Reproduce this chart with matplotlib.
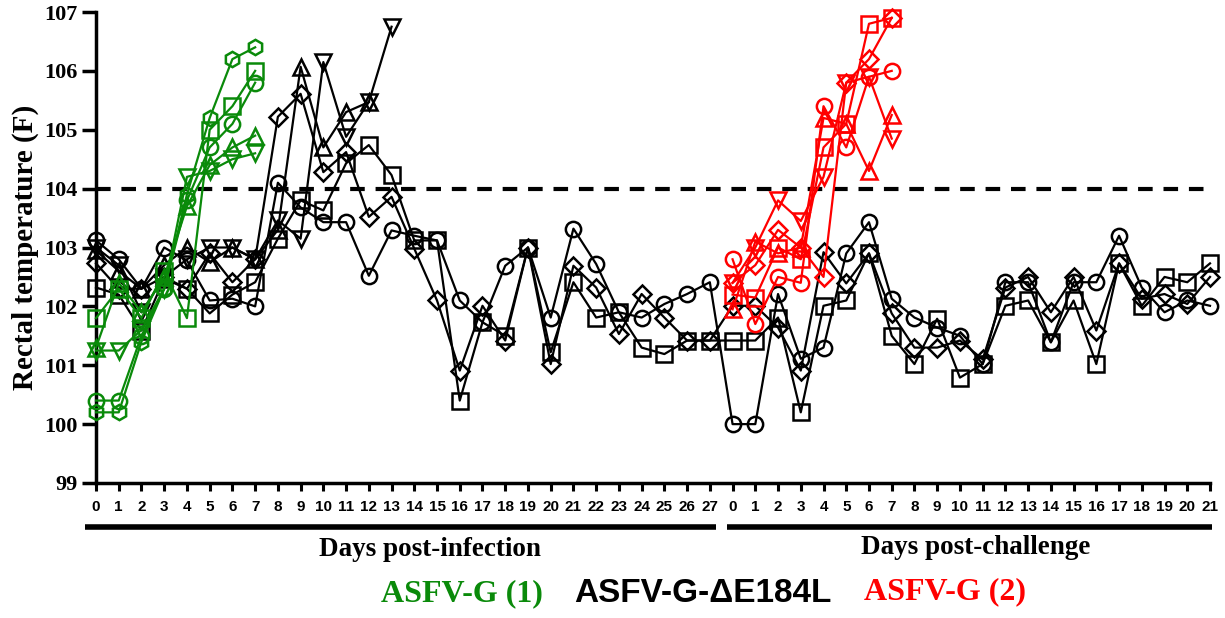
import matplotlib
matplotlib.use("Agg")
import matplotlib.pyplot as plt
import matplotlib.transforms as mtransforms
import numpy as np

# ---------------- data ----------------
pi_days = list(range(28))          # days post-infection 0..27
pc_days = list(range(22))          # days post-challenge 0..21
tick_labels = [str(d) for d in pi_days] + [str(d) for d in pc_days]

# ASFV-G (1) group (green), days 0..7 post-infection
g1_hexagon = [100.2, 100.2, 101.4, 102.3, 103.9, 105.2, 106.2, 106.4]
g1_circle = [100.4, 100.4, 101.5, 102.3, 103.8, 104.7, 105.1, 105.8]
g1_square = [101.8, 102.3, 101.8, 102.6, 101.8, 105.0, 105.4, 106.0]
g1_tri_up = [101.3, 102.4, 101.9, 102.5, 103.7, 104.4, 104.7, 104.9]
g1_tri_down = [101.25, 101.25, 101.6, 102.3, 104.2, 104.3, 104.5, 104.6]

# ASFV-G-dE184L group (black)
k_tri_up = [102.95, 102.6, 102.3, 102.7, 103.0, 102.75, 103.0, 102.8, 103.3,
            106.07, 104.7, 105.3, 105.47]
k_tri_down = [103.0, 102.7, 101.9, 102.5, 102.8, 103.0, 103.0, 102.8, 103.46,
              103.15, 106.15, 104.88, 105.47, 106.75]
k_circle = [103.12, 102.8, 102.3, 103.0, 102.78, 102.1, 102.13, 102.0, 104.1,
            103.68, 103.43, 103.43, 102.52, 103.29, 103.2, 103.12, 102.1, 101.73,
            102.69, 103.0, 101.81, 103.32, 102.72, 101.9, 101.81, 102.04, 102.21,
            102.41,
            100.0, 100.0, 102.21, 101.11, 101.3, 102.9, 103.43, 102.13, 101.81,
            101.64, 101.5, 101.02, 102.41, 102.41, 101.39, 102.41, 102.41, 103.2,
            102.32, 101.9, 102.1, 102.01]
k_square = [102.32, 102.2, 101.59, 102.47, 102.3, 101.88, 102.2, 102.41, 103.15,
            103.8, 103.63, 104.43, 104.74, 104.23, 103.12, 103.12, 100.4, 101.73,
            101.5, 103.0, 101.22, 102.41, 101.81, 101.9, 101.3, 101.19, 101.42,
            101.42,
            101.42, 101.42, 101.81, 100.2, 102.01, 102.1, 102.9, 101.5, 101.02,
            101.79, 100.79, 101.02, 102.01, 102.1, 101.39, 102.1, 101.02, 102.73,
            102.01, 102.5, 102.41, 102.73]
k_diamond = [102.73, 102.3, 102.3, 102.5, 102.3, 102.9, 102.41, 102.8, 105.22,
             105.61, 104.28, 104.62, 103.52, 103.86, 102.98, 102.1, 100.91, 102.01,
             101.42, 103.0, 101.02, 102.69, 102.32, 101.53, 102.21, 101.81, 101.42,
             101.42,
             102.01, 102.01, 101.64, 100.91, 102.92, 102.39, 102.9, 101.88, 101.3,
             101.3, 101.42, 101.1, 102.32, 102.5, 101.9, 102.5, 101.59, 102.73,
             102.13, 102.21, 102.04, 102.5]

# ASFV-G (2) challenge group (red), days 0..7 post-challenge
r_circle = [102.8, 101.7, 102.5, 102.4, 105.4, 104.7, 105.9, 106.0]
r_square = [102.2, 102.15, 103.0, 102.8, 104.7, 105.1, 106.8, 106.9]
r_diamond = [102.4, 102.7, 103.3, 103.0, 102.5, 105.8, 106.2, 106.9]
r_tri_up = [101.95, 103.1, 102.9, 103.0, 105.2, 105.1, 104.3, 105.25]
r_tri_down = [102.4, 103.0, 103.8, 103.45, 104.2, 105.8, 105.9, 104.85]

threshold = 104.0
legend_labels = ["ASFV-G (1)", "ASFV-G-\u0394E184L", "ASFV-G (2)"]

# ---------------- figure ----------------
W, H = 1225, 618
fig = plt.figure(figsize=(W / 100, H / 100), dpi=100)
ax = fig.add_axes([96 / W, 1 - 483 / H, (1210 - 96) / W, (483 - 12) / H])

GREEN = "#0a8a0a"
RED = "#ff0000"
BLACK = "#000000"
n_pi = len(pi_days)


def series(vals, offset, marker, color, ms=11):
    x = np.arange(len(vals)) + offset
    ms_eff = ms * (0.8 if marker == "D" else 1.0)
    ax.plot(x, vals, color=color, lw=1.6, marker=marker, ms=ms_eff,
            mfc="none", mec=color, mew=1.8, clip_on=False, zorder=3)


# black group
series(k_circle, 0, "o", BLACK)
series(k_square, 0, "s", BLACK)
series(k_diamond, 0, "D", BLACK)
series(k_tri_up, 0, "^", BLACK)
series(k_tri_down, 0, "v", BLACK)
# green group
series(g1_hexagon, 0, "h", GREEN)
series(g1_circle, 0, "o", GREEN)
series(g1_square, 0, "s", GREEN)
series(g1_tri_up, 0, "^", GREEN)
series(g1_tri_down, 0, "v", GREEN)
# red group
series(r_circle, n_pi, "o", RED)
series(r_square, n_pi, "s", RED)
series(r_diamond, n_pi, "D", RED)
series(r_tri_up, n_pi, "^", RED)
series(r_tri_down, n_pi, "v", RED)

ax.axhline(threshold, color=BLACK, lw=3, ls=(0, (3.5, 2.6)), zorder=2)

n_total = len(tick_labels)
ax.set_xlim(0, n_total - 1)
ax.set_ylim(99, 107)
ax.set_yticks(np.arange(99, 108, 1))
ax.set_yticklabels([str(v) for v in range(99, 108)],
                   fontfamily="Liberation Serif", fontweight="bold", fontsize=16)
ax.set_xticks(np.arange(n_total))
ax.set_xticklabels(tick_labels, fontfamily="Liberation Sans",
                   fontweight="bold", fontsize=11)

for s in ["top", "right"]:
    ax.spines[s].set_visible(False)
for s in ["left", "bottom"]:
    ax.spines[s].set_linewidth(2.5)
ax.tick_params(axis="y", width=2.5, length=10, direction="out", pad=3)
ax.tick_params(axis="x", width=2.2, length=6, direction="out", pad=6)

ax.set_ylabel("Rectal temperature (F)", fontfamily="Liberation Serif",
              fontweight="bold", fontsize=21, labelpad=4)

# group bars and labels under the x axis
trans = mtransforms.blended_transform_factory(ax.transData, ax.transAxes)
ax.plot([-0.48, n_pi - 0.72], [-0.093, -0.093], color=BLACK, lw=4,
        transform=trans, clip_on=False, solid_capstyle="butt")
ax.plot([n_pi - 0.24, n_total - 0.9], [-0.093, -0.093], color=BLACK, lw=4,
        transform=trans, clip_on=False, solid_capstyle="butt")
ax.text((n_pi - 1) / 2 + 1.2, -0.142, "Days post-infection", transform=trans,
        ha="center", va="center", fontfamily="Liberation Serif",
        fontweight="bold", fontsize=19.5)
ax.text(n_pi + 10.7, -0.136, "Days post-challenge", transform=trans,
        ha="center", va="center", fontfamily="Liberation Serif",
        fontweight="bold", fontsize=19.5)

# legend texts
fig.text(462 / W, 1 - 594 / H, legend_labels[0], color=GREEN, ha="center",
         va="center", fontfamily="Liberation Serif", fontweight="bold", fontsize=23)
fig.text(703 / W, 1 - 594 / H, legend_labels[1], color=BLACK, ha="center",
         va="center", fontfamily="Liberation Sans",
         fontweight="bold", fontsize=24)
fig.text(945 / W, 1 - 592 / H, legend_labels[2], color=RED, ha="center",
         va="center", fontfamily="Liberation Serif", fontweight="bold", fontsize=23)

fig.savefig("out.png", dpi=100)
